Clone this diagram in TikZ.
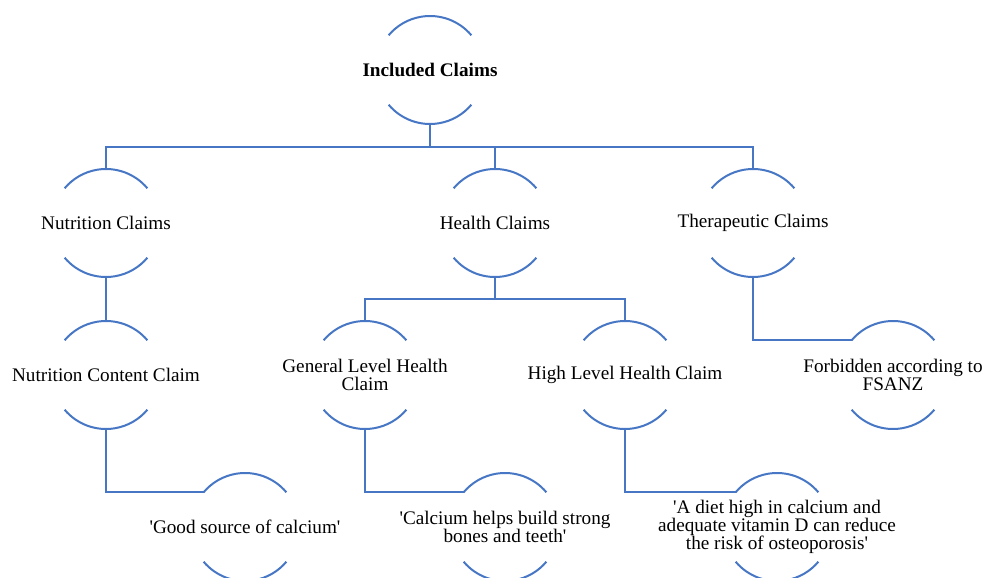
\documentclass[tikz,border=0pt]{standalone}
\usepackage{fontspec}
\setmainfont{Liberation Serif}[Ligatures=TeXOff]
\definecolor{lineblue}{RGB}{70,118,196}
\tikzset{
  hub/.style={circle, minimum size=108pt, inner sep=0pt, outer sep=0pt, draw=none},
  lbl/.style={align=center, font=\fontsize{19.2}{17.5}\selectfont, inner sep=0pt, text=black},
  link/.style={draw=lineblue, line width=2pt},
}
\newcommand\hubarcs[1]{%
  \draw[link] (#1.40) arc[start angle=40,end angle=140,radius=54pt];
  \draw[link] (#1.-140) arc[start angle=-140,end angle=-40,radius=54pt];}
\begin{document}
\begin{tikzpicture}[x=1pt,y=1pt]
\useasboundingbox (0,0) rectangle (983,-578);
\clip (0,0) rectangle (983,-578);
% circle holders
\node[hub] (root) at (430,-70) {};
\node[hub] (nc)   at (106,-223) {};
\node[hub] (hc)   at (495,-223) {};
\node[hub] (tc)   at (753,-223) {};
\node[hub] (ncc)  at (106,-375) {};
\node[hub] (glh)  at (365,-375) {};
\node[hub] (hlh)  at (625,-375) {};
\node[hub] (forb) at (893,-375) {};
\node[hub] (good) at (245,-527) {};
\node[hub] (calc) at (505,-527) {};
\node[hub] (diet) at (777,-527) {};
% arcs
\hubarcs{root}\hubarcs{nc}\hubarcs{hc}\hubarcs{tc}
\hubarcs{ncc}\hubarcs{glh}\hubarcs{hlh}\hubarcs{forb}
\hubarcs{good}\hubarcs{calc}\hubarcs{diet}
% labels
\node[lbl] (root-t) at (root) {\textbf{Included Claims}};
\node[lbl] (nc-t)   at (nc)   {Nutrition Claims};
\node[lbl] (hc-t)   at (hc)   {Health Claims};
\node[lbl] (tc-t)   at (tc)   {Therapeutic Claims};
\node[lbl] (ncc-t)  at (ncc)  {Nutrition Content Claim};
\node[lbl] (glh-t)  at (glh)  {General Level Health\\Claim};
\node[lbl] (hlh-t)  at (hlh)  {High Level Health Claim};
\node[lbl] (forb-t) at (forb) {Forbidden according to\\FSANZ};
\node[lbl] (good-t) at (good) {'Good source of calcium'};
\node[lbl] (calc-t) at (calc) {'Calcium helps build strong\\bones and teeth'};
\node[lbl] (diet-t) at (diet) {'A diet high in calcium and\\adequate vitamin D can reduce\\the risk of osteoporosis'};
% connectors
\draw[link] (root.south) -- ++(0,-23) -| (nc.north);
\draw[link] (root.south) -- ++(0,-23) -| (hc.north);
\draw[link] (root.south) -- ++(0,-23) -| (tc.north);
\draw[link] (nc.south) -- (ncc.north);
\draw[link] (hc.south) -- ++(0,-22) -| (glh.north);
\draw[link] (hc.south) -- ++(0,-22) -| (hlh.north);
\draw[link] (tc.south) |- (forb.140);
\draw[link] (ncc.south) |- (good.140);
\draw[link] (glh.south) |- (calc.140);
\draw[link] (hlh.south) |- (diet.140);
\end{tikzpicture}
\end{document}
